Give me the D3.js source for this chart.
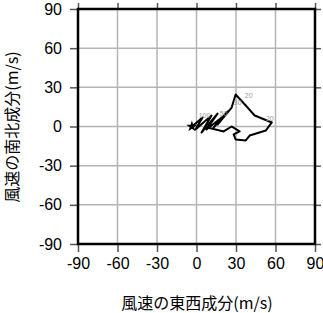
<!DOCTYPE html>
<html><head><meta charset="utf-8">
<script src="https://cdn.jsdelivr.net/npm/d3@7"></script>
<style>body{margin:0;background:#fff}svg{display:block}</style>
</head><body>
<svg id="c" width="323" height="313"></svg>
<script>
const xTicks = [-90, -60, -30, 0, 30, 60, 90];
const yTicks = [-90, -60, -30, 0, 30, 60, 90];
const xTitle = "風速の東西成分(m/s)";
const yTitle = "風速の南北成分(m/s)";
// hodograph (u, v) in m/s
const uWind = [-3.5, 4.6, -0.8, 11.4, 3.8, 16.0, 7.6, 19.1, 13.0, 23.6, 16.0, 26.7, 29.7, 37.4, 44.2, 57.2, 52.6, 40.4, 37.4, 29.7, 28.2, 32.8, 26.7, 20.6, 8.4];
const vWind = [0.0, 6.9, -2.3, 8.4, -4.6, 9.9, -2.3, 6.9, -0.8, 11.5, 1.5, 14.5, 24.5, 16.1, 8.4, 3.1, -3.1, -6.9, -10.7, -9.9, -6.1, -3.8, 0.0, -3.8, -0.8];
const labelText = ["100", "50", "30", "20", "20"];
const labelU = [6.1, 20.6, 31.3, 39.6, 55.7];
const labelV = [7.7, 9.2, 17.6, 23.0, 5.4];

const svg = d3.select("#c");
const x = d3.scaleLinear().domain([-90, 90]).range([78, 315]);
const y = d3.scaleLinear().domain([-90, 90]).range([244, 9]);
const font = "'Liberation Sans', Arial, sans-serif";

// grid
const g = svg.append("g");
g.selectAll(".gx").data(xTicks).join("line")
  .attr("x1", d => x(d)).attr("x2", d => x(d)).attr("y1", y(90)).attr("y2", y(-90))
  .attr("stroke", "#b4b4b4").attr("stroke-width", 1.5);
g.selectAll(".gy").data(yTicks).join("line")
  .attr("y1", d => y(d)).attr("y2", d => y(d)).attr("x1", x(-90)).attr("x2", x(90))
  .attr("stroke", "#b4b4b4").attr("stroke-width", 1.5);

// axes
const fmt = d => String(d);
const axB = d3.axisBottom(x).tickValues(xTicks).tickSize(8).tickPadding(6).tickFormat(fmt);
const axL = d3.axisLeft(y).tickValues(yTicks).tickSize(8).tickPadding(8).tickFormat(fmt);
const axT = d3.axisTop(x).tickValues(xTicks).tickSize(6).tickFormat("");
const axR = d3.axisRight(y).tickValues(yTicks).tickSize(6).tickFormat("");
function style(sel) {
  sel.select(".domain").remove();
  sel.selectAll(".tick line").attr("stroke", "#555").attr("stroke-width", 1.5);
  sel.selectAll(".tick text").attr("fill", "#000").style("font-family", font).style("font-size", "16px");
}
svg.append("g").attr("transform", `translate(0,${y(-90)})`).call(axB).call(style);
svg.append("g").attr("transform", `translate(${x(-90)},0)`).call(axL).call(style);
svg.append("g").attr("transform", `translate(0,${y(90)})`).call(axT).call(style);
svg.append("g").attr("transform", `translate(${x(90)},0)`).call(axR).call(style);

// frame
svg.append("rect").attr("x", x(-90)).attr("y", y(90)).attr("width", x(90) - x(-90)).attr("height", y(-90) - y(90))
  .attr("fill", "none").attr("stroke", "#000").attr("stroke-width", 2.5);

// hodograph
const pts = uWind.map((u, i) => [u, vWind[i]]);
svg.append("path").datum(pts)
  .attr("d", d3.line().x(d => x(d[0])).y(d => y(d[1])))
  .attr("fill", "none").attr("stroke", "#000").attr("stroke-width", 2).attr("stroke-linejoin", "round");
svg.append("path")
  .attr("d", d3.symbol().type(d3.symbolStar).size(40)())
  .attr("transform", `translate(${x(uWind[0])},${y(vWind[0])})`)
  .attr("fill", "#000");

svg.selectAll(".lab").data(labelText).join("text")
  .attr("x", (d, i) => x(labelU[i])).attr("y", (d, i) => y(labelV[i]))
  .attr("text-anchor", "middle").attr("dominant-baseline", "middle")
  .style("font-family", font).style("font-size", "7px").attr("fill", "#999")
  .text(d => d);

// titles
const cjk = "'Noto Sans CJK JP', 'Noto Sans', sans-serif";
svg.append("text").attr("x", 197).attr("y", 309).attr("text-anchor", "middle")
  .style("font-family", cjk).style("font-size", "16px").attr("fill", "#000").text(xTitle);
svg.append("text").attr("transform", "translate(18,127) rotate(-90)").attr("text-anchor", "middle")
  .style("font-family", cjk).style("font-size", "16px").attr("fill", "#000").text(yTitle);
</script>
</body></html>
